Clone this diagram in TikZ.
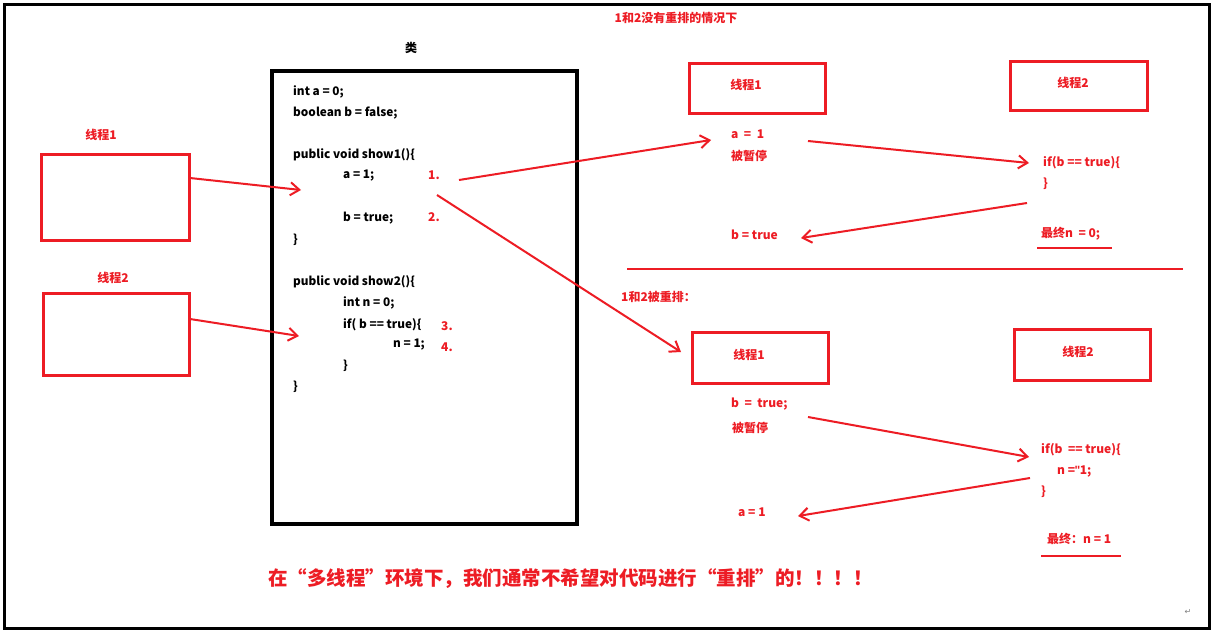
\documentclass[tikz,border=0pt]{standalone}
\usepackage{fontspec}
\setmainfont{Noto Sans CJK SC}
\newfontfamily\symfont{DejaVu Sans}
\newfontfamily\latinfont{Liberation Sans}
\usetikzlibrary{arrows.meta}
\definecolor{pred}{RGB}{237,28,36}
\tikzset{
  code/.style={anchor=west,inner sep=0pt,font=\fontsize{11.8}{14}\selectfont\bfseries,text=black},
  rtxt/.style={anchor=west,inner sep=0pt,font=\fontsize{12}{14}\selectfont\bfseries,text=pred},
  rbox/.style={draw=pred,line width=2.5pt},
  rarrow/.style={draw=pred,line width=2pt,-{Straight Barb[length=9pt,width=13pt,line width=2pt]}},
  rline/.style={draw=pred,line width=2pt},
}
\begin{document}
\begin{tikzpicture}[x=1pt,y=-1pt]
\useasboundingbox (0,0) rectangle (1214,632);
\fill[white] (0,0) rectangle (1214,632);
% outer frame
\draw[line width=3pt] (4,4) rectangle (1209,628);
% class box
\node[draw,line width=4pt,minimum width=305pt,minimum height=453pt,anchor=north west,inner sep=0pt] (cls) at (270,69) {};
\node[inner sep=0pt,font=\fontsize{12}{14}\selectfont\bfseries] (clslbl) at (411,48) {类};
% code
\node[code] (c1) at (293,92) {int a = 0;};
\node[code] (c2) at (293,113) {boolean b = false;};
\node[code] (c3) at (293,155) {public void show1()\{};
\node[code] (c4) at (343,176) {a = 1;};
\node[code] (c5) at (343,218) {b = true;};
\node[code] (c6) at (293,240) {\}};
\node[code] (c7) at (293,282) {public void show2()\{};
\node[code] (c8) at (343,303) {int n = 0;};
\node[code] (c9) at (343,325) {if( b == true)\{};
\node[code] (c10) at (393,345) {n = 1;};
\node[code] (c11) at (343,366) {\}};
\node[code] (c12) at (293,387) {\}};
\node[rtxt] (n1) at (428,175) {1.};
\node[rtxt] (n2) at (428,217) {2.};
\node[rtxt] (n3) at (441,326) {3.};
\node[rtxt] (n4) at (441,347) {4.};
% left thread boxes
\node[rbox,minimum width=148pt,minimum height=86pt,anchor=north west,inner sep=0pt] (lt1) at (40,153) {};
\node[rtxt,anchor=center] (lt1l) at (101,135) {线程1};
\node[rbox,minimum width=146pt,minimum height=82pt,anchor=north west,inner sep=0pt] (lt2) at (42,292) {};
\node[rtxt,anchor=center] (lt2l) at (113,278) {线程2};
\coordinate (a1s) at (190,178);
\coordinate (a1e) at (301,190);
\coordinate (a2s) at (190,319);
\coordinate (a2e) at (299,336);
\draw[rarrow] (a1s) -- (a1e);
\draw[rarrow] (a2s) -- (a2e);
% title
\node[rtxt,anchor=center] (title) at (676,18) {1和2没有重排的情况下};
% upper scenario
\node[rbox,minimum width=136pt,minimum height=50pt,anchor=north west,inner sep=0pt] (t1) at (688,62) {};
\node[rtxt,anchor=center] (t1l) at (746,85) {线程1};
\node[rbox,minimum width=137pt,minimum height=49pt,anchor=north west,inner sep=0pt] (t2) at (1009,60) {};
\node[rtxt,anchor=center] (t2l) at (1073,83) {线程2};
\node[rtxt] (u1) at (731,134) {a \ = \ 1};
\node[rtxt] (u2) at (731,156) {被暂停};
\node[rtxt] (u3) at (1043,163) {if(b == true)\{};
\node[rtxt] (u4) at (1043,184) {\}};
\node[rtxt] (u5) at (731,235) {b = true};
\node[rtxt] (u6) at (1041,234) {最终n \ = 0;};
\coordinate (ul1) at (1037,248);
\coordinate (ul2) at (1112,248);
\draw[rline] (ul1) -- (ul2);
\coordinate (m1s) at (459,180);
\coordinate (m1e) at (711,140);
\draw[rarrow] (m1s) -- (m1e);
\coordinate (u1s) at (808,141);
\coordinate (u1e) at (1029,163);
\draw[rarrow] (u1s) -- (u1e);
\coordinate (u2s) at (1027,203);
\coordinate (u2e) at (801,238);
\draw[rarrow] (u2s) -- (u2e);
% separator
\coordinate (sp1) at (627,269);
\coordinate (sp2) at (1183,269);
\draw[rline] (sp1) -- (sp2);
% lower scenario
\node[rtxt] (lt) at (621,297) {1和2被重排：};
\coordinate (m2s) at (437,195);
\coordinate (m2e) at (681,352);
\draw[rarrow] (m2s) -- (m2e);
\node[rbox,minimum width=136pt,minimum height=51pt,anchor=north west,inner sep=0pt] (r1) at (691,331) {};
\node[rtxt,anchor=center] (r1l) at (749,355) {线程1};
\node[rbox,minimum width=136pt,minimum height=51pt,anchor=north west,inner sep=0pt] (r2) at (1013,328) {};
\node[rtxt,anchor=center] (r2l) at (1078,352) {线程2};
\node[rtxt] (v1) at (731,404) {b \ = \ true;};
\node[rtxt] (v2) at (732,428) {被暂停};
\node[rtxt] (v3) at (1041,450) {if(b \ == true)\{};
\node[rtxt] (v4) at (1057,471) {n =\kern-0.5pt{\latinfont"}\kern-0.5pt1;};
\node[rtxt] (v5) at (1041,492) {\}};
\node[rtxt] (v6) at (738,512) {a = 1};
\node[rtxt] (v7) at (1047,539) {最终：n = 1};
\coordinate (vl1) at (1041,556);
\coordinate (vl2) at (1121,556);
\draw[rline] (vl1) -- (vl2);
\coordinate (l1s) at (808,417);
\coordinate (l1e) at (1029,457);
\draw[rarrow] (l1s) -- (l1e);
\coordinate (l2s) at (1030,478);
\coordinate (l2e) at (798,516);
\draw[rarrow] (l2s) -- (l2e);
% bottom sentence
\node[anchor=west,inner sep=0pt,font=\fontsize{19.5}{22}\selectfont\bfseries,text=pred] (bottom) at (268,579) {在“多线程”环境下，我们通常不希望对代码进行“重排”的！！！！};
\node[inner sep=0pt,font=\symfont\fontsize{8}{9}\selectfont,text=gray] (ret) at (1188,612) {↵};
\end{tikzpicture}
\end{document}
